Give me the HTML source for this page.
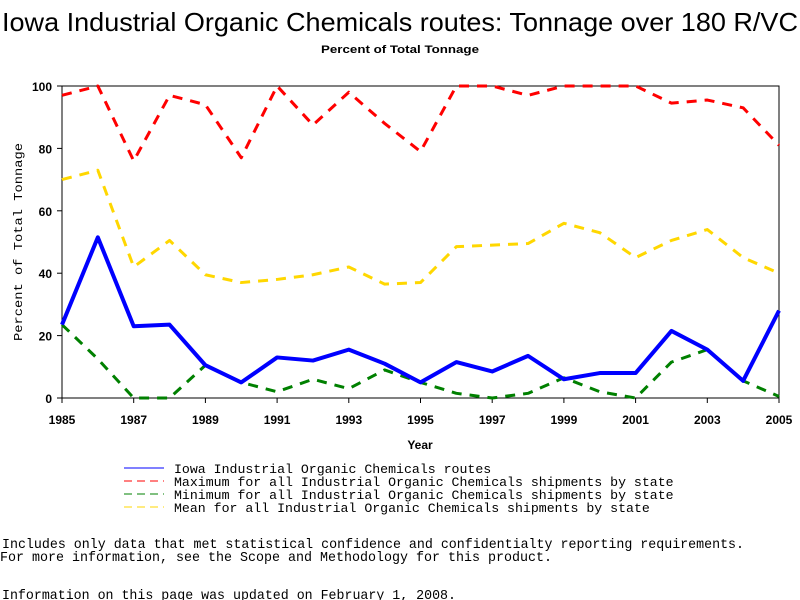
<!DOCTYPE html>
<html><head><meta charset="utf-8"><style>body{margin:0;background:#fff}svg{display:block}</style></head>
<body>
<svg id="chart" width="800" height="600" xmlns="http://www.w3.org/2000/svg" font-family="Liberation Sans, sans-serif">
<text x="400" y="31" font-size="26" text-anchor="middle" textLength="796" lengthAdjust="spacingAndGlyphs">Iowa Industrial Organic Chemicals routes: Tonnage over 180 R/VC</text>
<text x="400" y="53" font-size="11" font-weight="bold" text-anchor="middle" textLength="158" lengthAdjust="spacingAndGlyphs">Percent of Total Tonnage</text>
<rect x="62" y="86" width="717" height="312" fill="none" stroke="#000" stroke-width="1"/>
<g id="yticks"></g><g id="xticks"></g><g id="series"></g>
<text transform="translate(22,242) rotate(-90)" font-family="Liberation Mono, monospace" font-size="12" text-anchor="middle" textLength="198" lengthAdjust="spacingAndGlyphs">Percent of Total Tonnage</text>
<text x="420" y="449" font-size="12" font-weight="bold" text-anchor="middle">Year</text>
<g id="legend" font-family="Liberation Mono, monospace" font-size="13"></g>
<g font-family="Liberation Mono, monospace" font-size="14">
<text x="2" y="548" textLength="742" lengthAdjust="spacingAndGlyphs">Includes only data that met statistical confidence and confidentialty reporting requirements.</text>
<text x="0" y="561" textLength="552" lengthAdjust="spacingAndGlyphs">For more information, see the Scope and Methodology for this product.</text>
<text x="2" y="599" textLength="454" lengthAdjust="spacingAndGlyphs">Information on this page was updated on February 1, 2008.</text>
</g>
</svg>
<script>
const years=[1985,1986,1987,1988,1989,1990,1991,1992,1993,1994,1995,1996,1997,1998,1999,2000,2001,2002,2003,2004,2005];
const iowaValues=[23.5,51.5,23,23.5,10.5,5,13,12,15.5,11,5,11.5,8.5,13.5,6,8,8,21.5,15.5,5.5,28];
const maxValues=[97,100,76,97,94,77,100,87.5,98,88,79,100,100,97,100,100,100,94.5,95.5,93,81];
const minValues=[23.5,12.5,0,0,10.5,5,2,6,3,9,5,1.5,0,1.5,6.5,2,0,11.5,15.5,5.5,0.5];
const meanValues=[70,73,42,50.5,39.5,37,38,39.5,42,36.5,37,48.5,49,49.5,56,53,45,50.5,54,45,40];
const yTickValues=[0,20,40,60,80,100];
const xTickLabels=[1985,1987,1989,1991,1993,1995,1997,1999,2001,2003,2005];
const legendLabels=["Iowa Industrial Organic Chemicals routes","Maximum for all Industrial Organic Chemicals shipments by state","Minimum for all Industrial Organic Chemicals shipments by state","Mean for all Industrial Organic Chemicals shipments by state"];
const NS="http://www.w3.org/2000/svg";
const X=v=>62+(v-1985)*(717/20);
const Y=v=>398-v*3.12;
function mk(t,a,p){const e=document.createElementNS(NS,t);for(const k in a)e.setAttribute(k,a[k]);p.appendChild(e);return e;}
const yt=document.getElementById('yticks');
yTickValues.forEach(v=>{
 const l=mk('line',{x1:57,x2:62,y1:Y(v),y2:Y(v),stroke:'#000'},yt);
 
 
 const t=mk('text',{x:52,y:Y(v)+5,'font-size':12,'font-weight':'bold','text-anchor':'end'},yt);
 t.textContent=v;
 
 
});
const xt=document.getElementById('xticks');
xTickLabels.forEach(v=>{
 const l=mk('line',{x1:X(v),x2:X(v),y1:398,y2:403,stroke:'#000'},xt);
 
 
 const t=mk('text',{x:X(v),y:424,'font-size':12,'font-weight':'bold','text-anchor':'middle'},xt);
 t.textContent=v;
 
 
});
const defs=[[maxValues,'#ff0000','10,8',3,'max-line'],[meanValues,'#ffd700','10,8',3,'mean-line'],[minValues,'#008000','10,8',3,'min-line'],[iowaValues,'#0000ff','',4,'iowa-line']];
const sg=document.getElementById('series');
defs.forEach(d=>{
 const pts=years.map((y,i)=>X(y)+','+Y(d[0][i])).join(' ');
 const p=mk('polyline',{points:pts,fill:'none',stroke:d[1],'stroke-width':d[3],'stroke-dasharray':d[2],'stroke-linejoin':'round'},sg);
 
 
});
const lg=document.getElementById('legend');
const lc=[['#0000ff',''],['#ff0000','8,5'],['#008000','8,5'],['#ffd700','8,5']];
legendLabels.forEach((s,i)=>{
 const y=468+i*13;
 const l=mk('line',{x1:124,x2:164,y1:y,y2:y,stroke:lc[i][0],'stroke-width':1,'stroke-dasharray':lc[i][1]},lg);
 
 
 const t=mk('text',{x:174,y:y+5,textLength:s.length*7.93,lengthAdjust:'spacingAndGlyphs'},lg);
 t.textContent=s;
 
 
});
</script>
</body></html>
